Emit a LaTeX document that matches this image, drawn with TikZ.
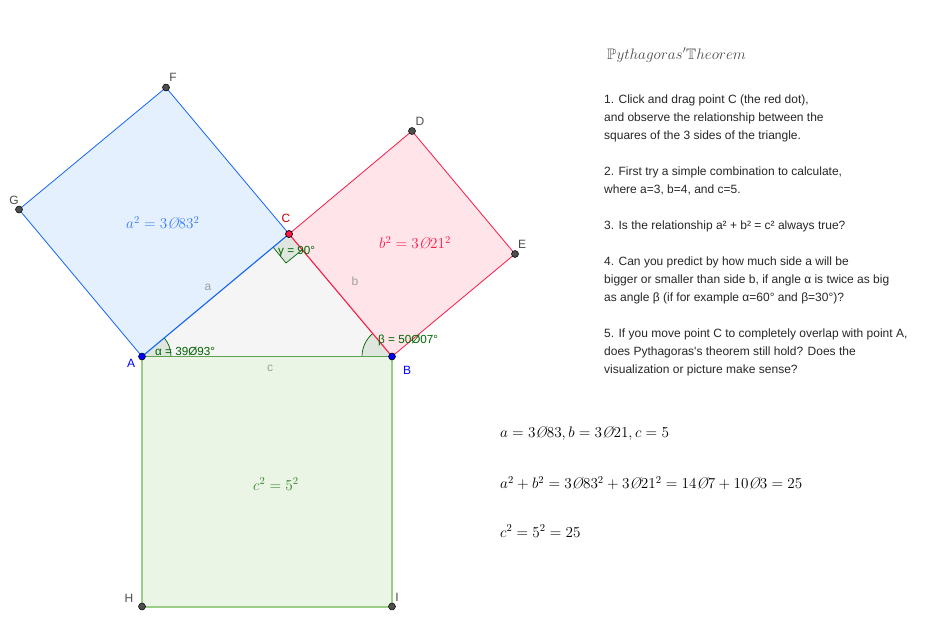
\documentclass[tikz,border=0pt]{standalone}
\usepackage{amsfonts,amssymb}
\usepackage{fontspec}
\newfontfamily\uifont{Liberation Sans}
\usetikzlibrary{calc}
\definecolor{blueedge}{RGB}{21,101,245}
\definecolor{redfg}{RGB}{250,25,70}
\definecolor{greenedge}{RGB}{155,205,135}
\definecolor{darkgr}{RGB}{0,100,0}
\definecolor{blabel}{RGB}{0,0,255}
\definecolor{ptgray}{RGB}{77,77,77}
\definecolor{anglefillc}{RGB}{222,230,222}
\definecolor{bluefill}{RGB}{229,240,254}
\definecolor{redfill}{RGB}{255,229,234}
\definecolor{greenfill}{RGB}{235,245,229}
\definecolor{trifill}{RGB}{245,245,245}
\newcommand{\zs}{\hbox{\itshape Ø}}
\tikzset{
 x=1pt,y=-1pt,
 ptdot/.style={circle,fill=ptgray,draw=black,line width=.5pt,inner sep=0pt,minimum size=7pt},
 bluedot/.style={circle,fill=blabel,draw=black,line width=.5pt,inner sep=0pt,minimum size=7pt},
 reddot/.style={circle,fill=redfg,draw=black,line width=.7pt,inner sep=0pt,minimum size=7pt},
 ptlabel/.style={font=\uifont\fontsize{12}{14}\selectfont,text=ptgray,inner sep=0pt},
 sidelabel/.style={font=\uifont\fontsize{12}{14}\selectfont,text=gray!75,inner sep=0pt},
 anglelabel/.style={font=\uifont\fontsize{11.7}{14}\selectfont,text=darkgr,inner sep=0pt,anchor=west},
 mathlabel/.style={inner sep=0pt,font=\fontsize{14.4}{17}\selectfont,anchor=west,transform shape,scale=1.055},
 instr/.style={font=\uifont\fontsize{12}{17.8}\selectfont,text=black!85,inner sep=0pt,anchor=north west,align=left},
}
\begin{document}
\begin{tikzpicture}
\useasboundingbox (0,0) rectangle (933,623);
\coordinate (A) at (142,356.5);
\coordinate (B) at (392,356.5);
\coordinate (C) at (289,234);
\coordinate (F) at (166,87.5);
\coordinate (G) at (19,209.5);
\coordinate (D) at (412,131);
\coordinate (E) at (515,254);
\coordinate (H) at (142,606.5);
\coordinate (I) at (392,606.5);
% squares
\fill[bluefill] (A)--(C)--(F)--(G)--cycle;
\fill[redfill] (C)--(D)--(E)--(B)--cycle;
\fill[greenfill] (A)--(B)--(I)--(H)--cycle;
\fill[trifill] (A)--(B)--(C)--cycle;
% angles
\fill[anglefillc] (A) -- ++(29,0) arc[start angle=0,end angle=-39.93,radius=29] -- cycle;
\draw[darkgr,line width=.7pt] ($(A)+(29,0)$) arc[start angle=0,end angle=-39.93,radius=29];
\fill[anglefillc] (B) -- ++(-30,0) arc[start angle=180,end angle=230,radius=30] -- cycle;
\draw[darkgr,line width=.7pt] ($(B)+(-30,0)$) arc[start angle=180,end angle=230,radius=30];
\path[fill=anglefillc] (C)--(273,247)--(286,263)--(302,250)--cycle;
\draw[darkgr,line width=.7pt] (273,247)--(286,263)--(302,250);
% edges
\draw[blueedge,line width=.8pt] (A)--(G)--(F)--(C);
\draw[blueedge,line width=1.1pt] (A)--(C);
\draw[redfg,line width=.8pt] (C)--(D)--(E)--(B);
\draw[redfg,line width=1.1pt] (C)--(B);
\draw[greenedge,line width=2pt] (B)--(I)--(H)--(A);
\draw[greenedge!60!darkgr,line width=1.6pt] (A)--(B);
% points
\node[ptdot] (nF) at (F) {};
\node[ptdot] (nG) at (G) {};
\node[ptdot] (nD) at (D) {};
\node[ptdot] (nE) at (E) {};
\node[ptdot] (nH) at (H) {};
\node[ptdot] (nI) at (I) {};
\node[bluedot] (nA) at (A) {};
\node[bluedot] (nB) at (B) {};
\node[reddot] (nC) at (C) {};
% labels
\node[ptlabel] (lF) at (173,77) {F};
\node[ptlabel] (lG) at (14,200) {G};
\node[ptlabel] (lD) at (420,121) {D};
\node[ptlabel] (lE) at (522,244) {E};
\node[ptlabel] (lH) at (129,598) {H};
\node[ptlabel] (lI) at (397,597) {I};
\node[ptlabel,text=blabel] (lA) at (131,363) {A};
\node[ptlabel,text=blabel] (lB) at (407,370) {B};
\node[ptlabel,text=red!80!black] (lC) at (286,218) {C};
\node[sidelabel] (sa) at (208,287) {a};
\node[sidelabel] (sb) at (355,281) {b};
\node[sidelabel] (sc) at (270,368) {c};
\node[anglelabel] (la) at (155,351) {α = 39Ø93°};
\node[anglelabel] (lb) at (378,340) {β = 50Ø07°};
\node[anglelabel] (lg) at (278,252) {γ = 90°};
% square areas
\node[mathlabel,text=blueedge!85!white] (ma) at (126,223) {$a^2=3\zs83^2$};
\node[mathlabel,text=redfg] (mb) at (379,243) {$b^2=3\zs21^2$};
\node[mathlabel,text=darkgr!70!greenedge] (mc) at (253,484) {$c^2=5^2$};
% title
\node[mathlabel,text=black!70] (title) at (607,55) {$\mathbb{P}ythagoras'\mathbb{T}heorem$};
% instructions
\node[instr] (i1) at (604,95) {1. Click and drag point C (the red dot),\\and observe the relationship between the\\squares of the 3 sides of the triangle.};
\node[instr] (i2) at (604,167) {2. First try a simple combination to calculate,\\where a=3, b=4, and c=5.};
\node[instr] (i3) at (604,221) {3. Is the relationship a² + b² = c² always true?};
\node[instr] (i4) at (604,257) {4. Can you predict by how much side a will be\\bigger or smaller than side b, if angle α is twice as big\\as angle β (if for example α=60° and β=30°)?};
\node[instr] (i5) at (604,329) {5. If you move point C to completely overlap with point A,\\does Pythagoras's theorem still hold? Does the\\visualization or picture make sense?};
% results
\node[mathlabel] (r1) at (500,433) {$a=3\zs83,b=3\zs21,c=5$};
\node[mathlabel] (r2) at (500,483) {$a^2+b^2=3\zs83^2+3\zs21^2=14\zs7+10\zs3=25$};
\node[mathlabel] (r3) at (500,531) {$c^2=5^2=25$};
\end{tikzpicture}
\end{document}
